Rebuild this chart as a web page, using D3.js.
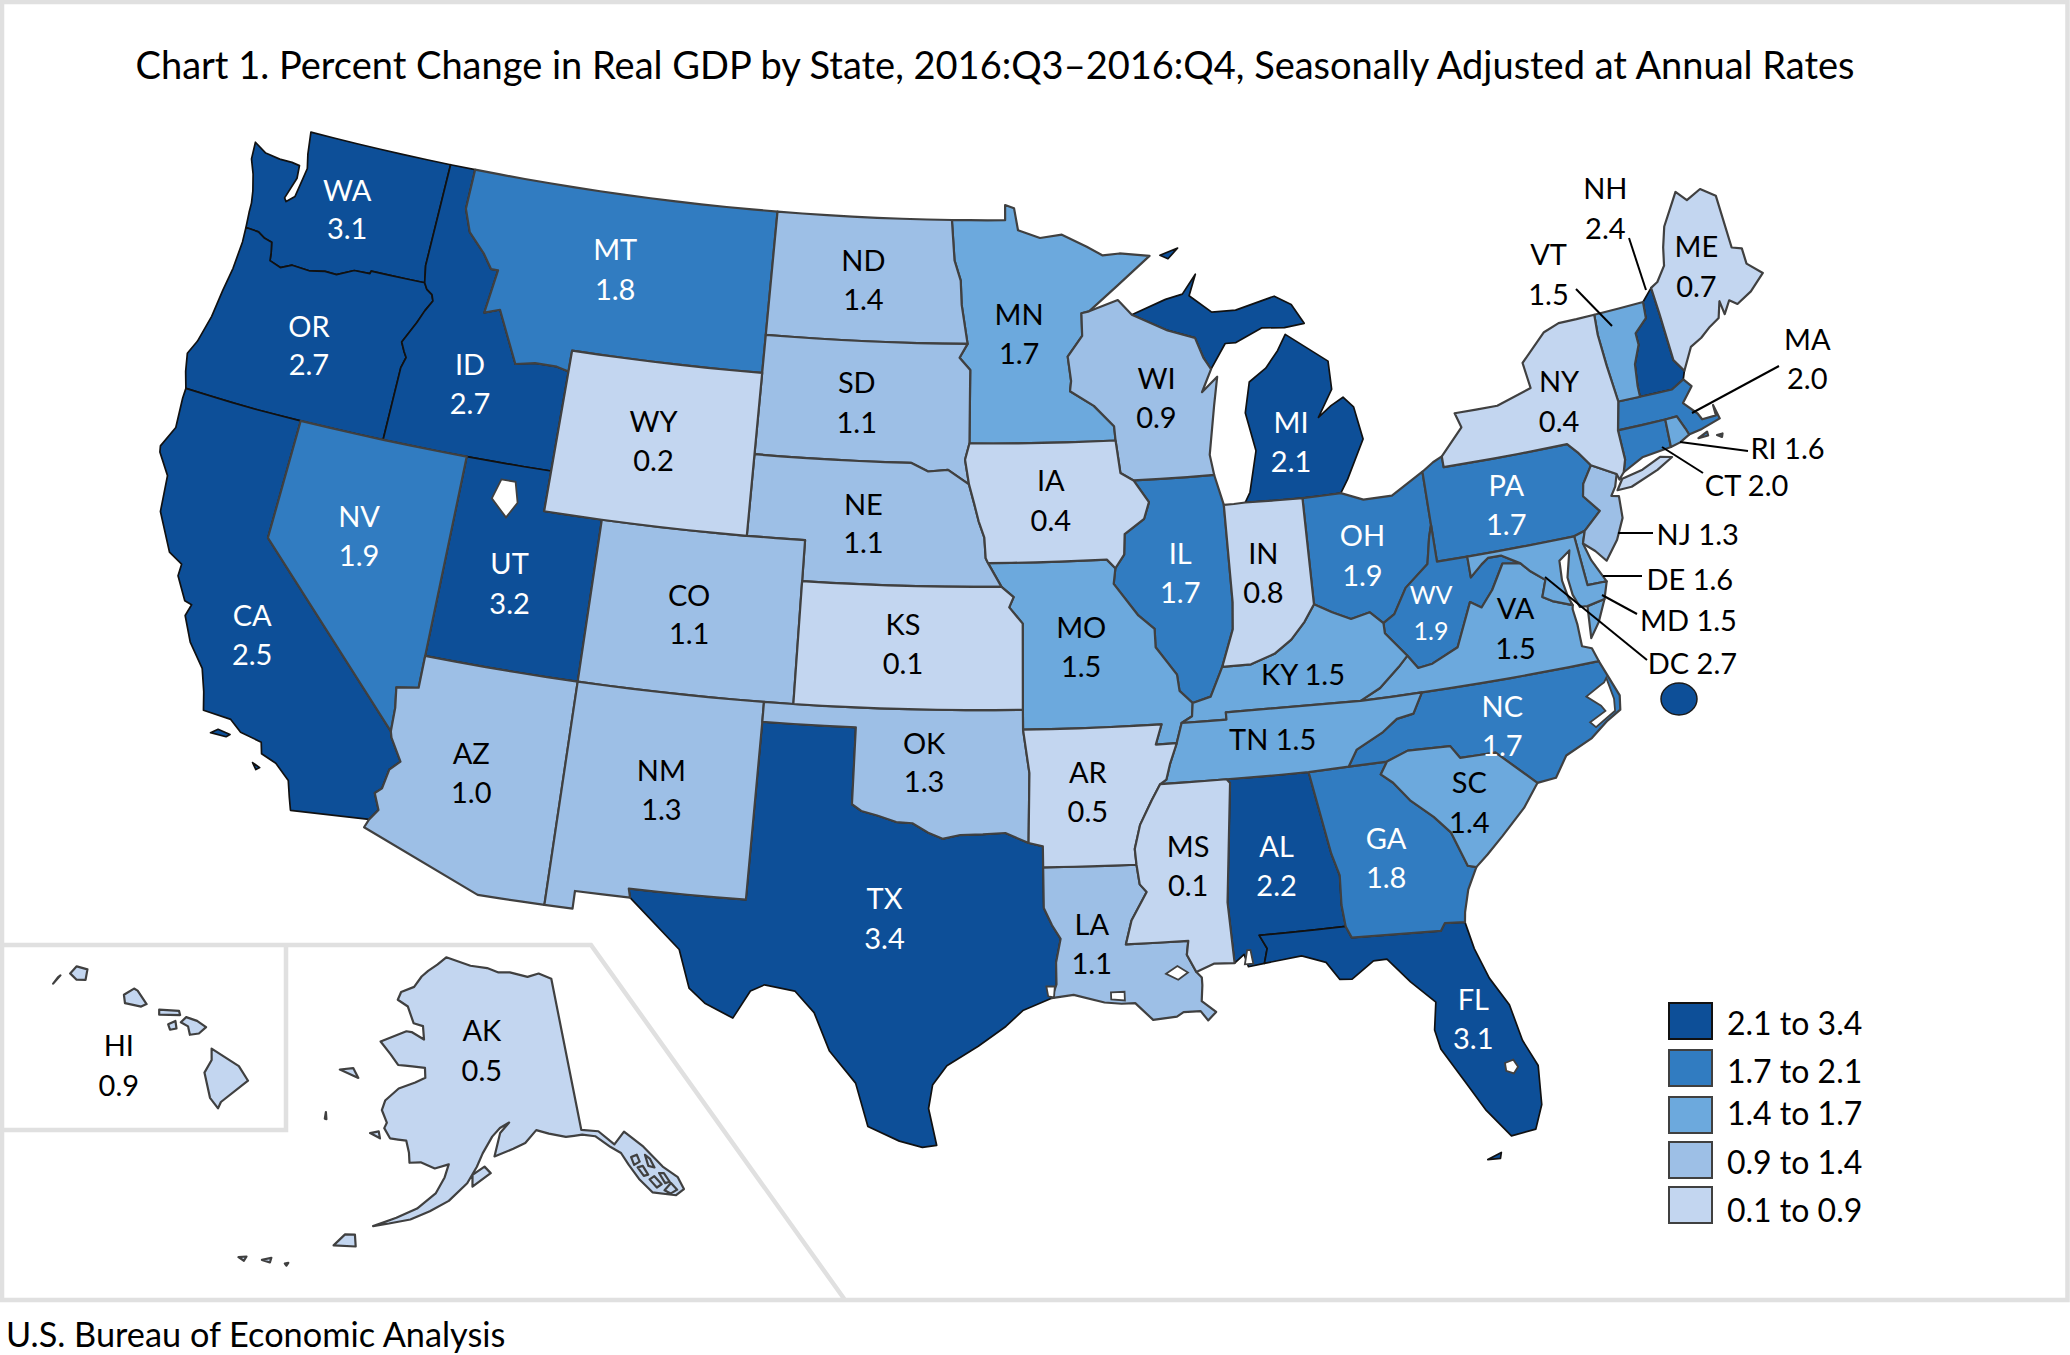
<!DOCTYPE html>
<html>
<head>
<title>Percent Change in Real GDP by State</title>
<script src="https://d3js.org/d3.v7.min.js"></script>
<style>
  body { margin: 0; background: #fff; }
  text { font-family: Lato, "Noto Sans", sans-serif; }
</style>
</head>
<body>
<svg id="chart" width="2070" height="1355"></svg>
<script>
// values
const stateCodes  = ["WA","OR","ID","MT","ND","SD","MN","WY","WI","NE","IA","CA","NV","UT","CO","KS","MO","IL","IN","OH","MI","PA","NY","ME","NH","VT","MA","AZ","NM","OK","AR","TX","LA","MS","AL","GA","FL","SC","NC","VA","WV","KY","TN","RI","CT","NJ","DE","MD","HI","AK"];
const stateValues = ["3.1","2.7","2.7","1.8","1.4","1.1","1.7","0.2","0.9","1.1","0.4","2.5","1.9","3.2","1.1","0.1","1.5","1.7","0.8","1.9","2.1","1.7","0.4","0.7","2.4","1.5","2.0","1.0","1.3","1.3","0.5","3.4","1.1","0.1","2.2","1.8","3.1","1.4","1.7","1.5","1.9","1.5","1.5","1.6","2.0","1.3","1.6","1.5","0.9","0.5"];
const stateBins   = [0,0,0,1,3,3,2,4,3,3,4,0,1,0,3,4,2,1,4,1,0,1,4,4,0,2,1,3,3,3,4,0,3,4,0,1,0,2,1,2,1,2,2,2,1,3,2,2,4,4];
const legendLabels = ["2.1 to 3.4","1.7 to 2.1","1.4 to 1.7","0.9 to 1.4","0.1 to 0.9"];
const binColors    = ["#0d4f98","#317cc1","#6ca9dd","#9dbfe6","#c3d6f0"];
const whiteLabels  = ["WA","OR","ID","MT","CA","NV","UT","IL","OH","MI","PA","TX","AL","GA","FL","NC","WV"];

// state outlines, lon/lat
const outlines = {
  WA: [[[-124,46.27],[-124.07,46.65],[-124.1,46.9],[-124.2,47.2],[-124.4,47.6],[-124.65,47.95],[-124.72,48.38],[-124.2,48.2],[-123.6,48.15],[-123.1,48.15],[-122.78,48.12],[-122.72,47.8],[-122.95,47.25],[-122.85,47.17],[-122.58,47.35],[-122.5,47.8],[-122.45,48.1],[-122.6,48.45],[-122.75,49],[-117.04,49],[-117.04,46.42],[-116.92,46],[-118.98,46],[-119,45.93],[-119.6,45.92],[-120.2,45.72],[-120.65,45.73],[-121.2,45.65],[-121.9,45.68],[-122.3,45.55],[-122.75,45.65],[-122.8,45.85],[-122.9,46.1],[-123.2,46.15],[-123.5,46.26]]],
  OR: [[[-124,46.27],[-123.5,46.26],[-123.2,46.15],[-122.9,46.1],[-122.8,45.85],[-122.75,45.65],[-122.3,45.55],[-121.9,45.68],[-121.2,45.65],[-120.65,45.73],[-120.2,45.72],[-119.6,45.92],[-119,45.93],[-118.98,46],[-116.92,46],[-116.78,45.85],[-116.55,45.75],[-116.46,45.6],[-116.67,45.32],[-116.85,45],[-117.22,44.45],[-117.05,44.23],[-116.93,44.1],[-117.03,43.83],[-117.03,42],[-124.2,42],[-124.4,42.4],[-124.55,42.84],[-124.35,43.2],[-124.15,43.9],[-124.07,44.6],[-123.97,45.2],[-123.95,45.9]]],
  ID: [[[-117.04,49],[-116.05,49],[-116.05,48],[-115.7,47.45],[-115,47],[-114.6,46.65],[-114.33,46.65],[-114.5,45.56],[-113.95,45.7],[-113.45,45.05],[-113,44.45],[-112.3,44.55],[-111.5,44.55],[-111.05,44.48],[-111.05,42],[-117.03,42],[-117.03,43.83],[-116.93,44.1],[-117.05,44.23],[-117.22,44.45],[-116.85,45],[-116.67,45.32],[-116.46,45.6],[-116.55,45.75],[-116.78,45.85],[-116.92,46],[-117.04,46.42]]],
  MT: [[[-116.05,49],[-104.05,49],[-104.05,45],[-111.05,45],[-111.05,44.48],[-111.5,44.55],[-112.3,44.55],[-113,44.45],[-113.45,45.05],[-113.95,45.7],[-114.5,45.56],[-114.33,46.65],[-114.6,46.65],[-115,47],[-115.7,47.45],[-116.05,48]]],
  ND: [[[-104.05,49],[-97.23,49],[-97.1,48],[-96.85,47.5],[-96.8,46.9],[-96.56,45.94],[-104.05,45.94]]],
  SD: [[[-104.05,45.94],[-96.56,45.94],[-96.85,45.6],[-96.45,45.3],[-96.45,43.5],[-96.6,43.1],[-96.45,42.5],[-97.2,42.85],[-97.9,42.8],[-98.5,43],[-104.05,43]]],
  MN: [[[-97.23,49],[-95.15,49],[-95.15,49.38],[-94.8,49.3],[-94.65,48.75],[-93.8,48.55],[-92.95,48.62],[-92,48.3],[-91.4,48.07],[-90.75,48.1],[-89.6,48],[-90.9,47.3],[-92,46.7],[-92.29,46.66],[-92.29,46.1],[-92.85,45.6],[-92.75,45],[-92.8,44.75],[-91.95,44.37],[-91.25,43.85],[-91.22,43.5],[-96.45,43.5],[-96.45,45.3],[-96.85,45.6],[-96.56,45.94],[-96.8,46.9],[-96.85,47.5],[-97.1,48]]],
  WY: [[[-111.05,45],[-104.05,45],[-104.05,41],[-111.05,41]]],
  WI: [[[-92.29,46.66],[-92,46.7],[-90.9,46.95],[-90.4,46.57],[-89.1,46.13],[-88.1,45.9],[-87.85,45.4],[-87.6,45.1],[-88,44.55],[-87.4,44.9],[-87.6,44.2],[-87.9,43],[-87.8,42.5],[-90.65,42.5],[-91.1,42.7],[-91.22,43.5],[-91.25,43.85],[-91.95,44.37],[-92.8,44.75],[-92.75,45],[-92.85,45.6],[-92.29,46.1]]],
  NE: [[[-104.05,43],[-98.5,43],[-97.9,42.8],[-97.2,42.85],[-96.45,42.5],[-96.25,42],[-96.1,41.6],[-95.9,41.2],[-95.85,40.7],[-95.77,40.58],[-95.31,40],[-102.05,40],[-102.05,41],[-104.05,41]]],
  IA: [[[-96.45,43.5],[-91.22,43.5],[-91.1,42.7],[-90.65,42.5],[-90.15,41.95],[-90.35,41.55],[-91.05,41.2],[-91.1,40.7],[-91.42,40.38],[-91.7,40.6],[-95.77,40.58],[-95.85,40.7],[-95.9,41.2],[-96.1,41.6],[-96.25,42],[-96.45,42.5],[-96.6,43.1]]],
  CA: [[[-124.2,42],[-120,42],[-120,39],[-114.63,35],[-114.57,34.85],[-114.14,34.3],[-114.43,34.05],[-114.53,33.55],[-114.72,33.4],[-114.5,33],[-114.72,32.72],[-117.12,32.53],[-117.25,32.85],[-117.4,33.25],[-117.9,33.6],[-118.4,33.75],[-118.5,34.03],[-119.2,34.15],[-119.6,34.4],[-120.5,34.45],[-120.65,34.9],[-120.9,35.45],[-121.5,36],[-121.9,36.6],[-121.8,36.9],[-122.05,36.95],[-122.5,37.5],[-122.5,37.8],[-123,38],[-123.7,38.9],[-123.85,39.8],[-124.35,40.3],[-124.4,40.45],[-124.1,41],[-124.2,41.75]],
       [[-119.9,34.08],[-119.5,34.03],[-119.6,33.95],[-120.1,33.95]],[[-118.6,33.48],[-118.35,33.4],[-118.45,33.33]]],
  NV: [[[-120,42],[-114.04,42],[-114.05,37],[-114.05,36.2],[-114.75,36.1],[-114.65,35.6],[-114.63,35],[-120,39]]],
  UT: [[[-114.04,42],[-111.05,42],[-111.05,41],[-109.05,41],[-109.05,37],[-114.05,37]]],
  CO: [[[-109.05,41],[-102.05,41],[-102.05,37],[-109.05,37]]],
  KS: [[[-102.05,40],[-95.31,40],[-94.9,39.75],[-95.05,39.5],[-94.6,39.1],[-94.62,37],[-102.05,37]]],
  MO: [[[-95.77,40.58],[-91.7,40.6],[-91.42,40.38],[-91.5,40],[-90.72,39.2],[-90.2,38.85],[-90.2,38.4],[-89.55,37.7],[-89.5,37.3],[-89.1,36.98],[-89.15,36.65],[-89.5,36.5],[-89.7,36],[-90.37,36],[-90.15,36.5],[-94.62,36.5],[-94.62,37],[-94.6,39.1],[-95.05,39.5],[-94.9,39.75],[-95.31,40]]],
  IL: [[[-90.65,42.5],[-87.8,42.5],[-87.55,41.75],[-87.53,39.35],[-87.6,38.7],[-88.05,37.8],[-88.5,37.1],[-89.1,36.98],[-89.5,37.3],[-89.55,37.7],[-90.2,38.4],[-90.2,38.85],[-90.72,39.2],[-91.5,40],[-91.42,40.38],[-91.1,40.7],[-91.05,41.2],[-90.35,41.55],[-90.15,41.95]]],
  IN: [[[-87.55,41.75],[-87.2,41.75],[-86.8,41.76],[-84.8,41.72],[-84.82,39.1],[-85.2,38.7],[-85.7,38.3],[-86.3,38],[-87.1,37.8],[-88.05,37.8],[-87.6,38.7],[-87.53,39.35]]],
  OH: [[[-84.8,41.72],[-83.45,41.73],[-82.7,41.5],[-81.7,41.5],[-80.52,41.97],[-80.52,40.64],[-80.65,40.35],[-80.85,39.7],[-81.7,39.2],[-82.2,38.6],[-82.6,38.42],[-83,38.73],[-83.65,38.63],[-84.25,38.85],[-84.82,39.1]]],
  MI: [[[-86.8,41.76],[-84.8,41.72],[-83.45,41.73],[-83.15,42.05],[-82.42,42.98],[-82.6,43.8],[-82.93,44.07],[-83.4,43.9],[-83.9,43.65],[-83.3,44.3],[-83.3,45],[-84.75,45.78],[-85.1,45.4],[-85.6,45],[-86.25,44.7],[-86.5,43.95],[-86.25,43],[-86.6,42]],
       [[-90.4,46.57],[-89.1,46.9],[-88.45,47],[-87.9,47.47],[-88.2,46.95],[-87.4,46.5],[-86.5,46.5],[-85,46.75],[-84.4,46.5],[-84,46],[-84.75,45.95],[-85.6,46],[-86.6,45.7],[-87,45.7],[-87.6,45.1],[-87.85,45.4],[-88.1,45.9],[-89.1,46.13]],
       [[-89.2,48],[-88.5,48.15],[-88.9,47.9]]],
  PA: [[[-80.52,41.97],[-80.1,42.16],[-79.76,42.27],[-79.76,42],[-75.35,42],[-75.05,41.75],[-74.7,41.36],[-75.1,40.95],[-75.2,40.65],[-74.75,40.2],[-75.4,39.8],[-75.79,39.72],[-80.52,39.72],[-80.52,40.64]]],
  NY: [[[-79.76,42],[-79.76,42.27],[-78.9,42.9],[-79.05,43.27],[-77.5,43.27],[-76.2,43.55],[-76.3,44.2],[-75.3,44.85],[-74.7,45],[-73.35,45.01],[-73.4,44.5],[-73.35,43.7],[-73.25,42.75],[-73.5,42.05],[-73.5,41.3],[-73.65,41],[-73.85,40.85],[-73.9,41],[-74.7,41.36],[-75.05,41.75],[-75.35,42]],
       [[-74,40.6],[-73.75,40.85],[-73,40.95],[-72.3,41.15],[-71.9,41.07],[-72.5,40.85],[-73.5,40.6]]],
  ME: [[[-71.08,45.3],[-70.8,45.4],[-70.4,45.75],[-70.25,46.2],[-70,46.7],[-69.23,47.46],[-68.9,47.18],[-68.3,47.35],[-67.8,47.07],[-67.8,45.7],[-67.45,45.6],[-67.45,45.2],[-66.98,44.85],[-67.6,44.5],[-68.2,44.3],[-68.45,44.45],[-68.75,44.15],[-68.8,44.5],[-69,44.1],[-69.4,43.95],[-69.8,43.75],[-70.25,43.6],[-70.7,43.07],[-70.98,43.4],[-71.03,44.6]]],
  NH: [[[-71.5,45.01],[-71.08,45.3],[-71.03,44.6],[-70.98,43.4],[-70.7,43.07],[-70.82,42.87],[-71.3,42.7],[-72.46,42.73],[-72.45,43],[-72.35,43.55],[-72.05,44],[-72.05,44.3],[-71.55,44.6]]],
  VT: [[[-73.35,45.01],[-71.5,45.01],[-71.55,44.6],[-72.05,44.3],[-72.05,44],[-72.35,43.55],[-72.45,43],[-72.46,42.73],[-73.25,42.75],[-73.35,43.7],[-73.4,44.5]]],
  MA: [[[-73.5,42.05],[-73.25,42.75],[-72.46,42.73],[-71.3,42.7],[-70.82,42.87],[-70.6,42.65],[-71.05,42.3],[-70.65,41.95],[-70.55,41.78],[-70.05,41.78],[-70.05,42.05],[-69.95,41.68],[-70.65,41.55],[-71.13,41.5],[-71.2,41.67],[-71.38,42.02],[-71.8,42.02]],
       [[-70.85,41.35],[-70.5,41.45],[-70.5,41.35]],[[-70.2,41.3],[-70,41.3],[-70.05,41.22]]],
  RI: [[[-71.8,42.02],[-71.38,42.02],[-71.2,41.67],[-71.13,41.5],[-71.5,41.37],[-71.85,41.32]]],
  CT: [[[-73.5,42.05],[-71.8,42.02],[-71.85,41.32],[-72.9,41.25],[-73.65,41],[-73.5,41.3]]],
  NJ: [[[-73.9,41],[-74.7,41.36],[-75.1,40.95],[-75.2,40.65],[-74.75,40.2],[-75.4,39.8],[-75.55,39.5],[-75.2,39.25],[-74.9,38.95],[-74.4,39.4],[-74.05,39.9],[-74,40.45],[-74.25,40.5],[-74.05,40.7]]],
  DE: [[[-75.79,39.72],[-75.4,39.8],[-75.55,39.5],[-75.4,39.05],[-75.05,38.45],[-75.7,38.46]]],
  MD: [[[-79.48,39.72],[-75.79,39.72],[-75.7,38.46],[-75.05,38.45],[-75.25,38.03],[-75.85,37.95],[-76.1,37.97],[-76.25,38.3],[-76.3,38.75],[-76.05,39.4],[-76.45,39.2],[-76.5,38.7],[-76.42,38.3],[-76.32,38.05],[-76.95,38.25],[-77.25,38.4],[-77.04,38.8],[-77.5,39.1],[-77.75,39.32],[-78.35,39.6],[-78.8,39.6],[-79.05,39.47],[-79.48,39.2]]],
  VA: [[[-83.68,36.6],[-81.68,36.59],[-75.87,36.55],[-76,36.9],[-76.3,37],[-76.3,37.55],[-76.35,37.95],[-76.32,38.05],[-76.95,38.25],[-77.25,38.4],[-77.04,38.8],[-77.5,39.1],[-77.75,39.32],[-78.35,39.4],[-78.85,38.8],[-79.3,38.42],[-79.65,38.6],[-80.3,37.55],[-81.2,37.25],[-81.68,37.2],[-81.97,37.54],[-82.3,37.3],[-83,36.85]],
       [[-75.25,38.03],[-75.85,37.95],[-75.95,37.15],[-75.6,37.5]]],
  WV: [[[-82.6,38.42],[-82.2,38.6],[-81.7,39.2],[-80.85,39.7],[-80.65,40.35],[-80.52,40.64],[-80.52,39.72],[-79.48,39.72],[-79.48,39.2],[-79.05,39.47],[-78.8,39.6],[-78.35,39.6],[-77.75,39.32],[-78.35,39.4],[-78.85,38.8],[-79.3,38.42],[-79.65,38.6],[-80.3,37.55],[-81.2,37.25],[-81.68,37.2],[-81.97,37.54],[-82.6,38.17]]],
  KY: [[[-89.5,36.5],[-88.05,36.5],[-88.05,36.68],[-83.68,36.6],[-83,36.85],[-82.3,37.3],[-81.97,37.54],[-82.6,38.17],[-82.6,38.42],[-83,38.73],[-83.65,38.63],[-84.25,38.85],[-84.82,39.1],[-85.2,38.7],[-85.7,38.3],[-86.3,38],[-87.1,37.8],[-88.05,37.8],[-88.5,37.1],[-89.1,36.98],[-89.15,36.65]]],
  TN: [[[-89.5,36.5],[-88.05,36.5],[-88.05,36.68],[-83.68,36.6],[-81.68,36.59],[-82.05,36.1],[-82.6,36.03],[-83.1,35.75],[-84,35.4],[-84.32,35],[-85.6,34.98],[-88.2,35],[-90.3,35],[-90.1,35.1],[-89.95,35.5],[-89.7,36]]],
  NC: [[[-84.32,35],[-83.1,35],[-82.4,35.2],[-81.05,35.15],[-80.8,34.82],[-79.67,34.8],[-78.55,33.86],[-77.95,33.9],[-77.5,34.4],[-76.6,34.7],[-76,35.05],[-75.53,35.25],[-75.45,35.6],[-75.87,36.55],[-81.68,36.59],[-82.05,36.1],[-82.6,36.03],[-83.1,35.75],[-84,35.4]]],
  SC: [[[-83.35,34.7],[-83.1,35],[-82.4,35.2],[-81.05,35.15],[-80.8,34.82],[-79.67,34.8],[-78.55,33.86],[-79.1,33.3],[-79.9,32.7],[-80.45,32.3],[-80.85,32.03],[-81.1,32.1],[-81.45,33],[-81.9,33.45],[-82.55,33.95],[-83,34.45]]],
  GA: [[[-85.6,34.98],[-84.32,35],[-83.1,35],[-83.35,34.7],[-83,34.45],[-82.55,33.95],[-81.9,33.45],[-81.45,33],[-81.1,32.1],[-80.85,32.03],[-81.2,31.5],[-81.4,30.95],[-81.45,30.7],[-82.05,30.75],[-82.2,30.57],[-84.86,30.7],[-85,31],[-85.05,31.55],[-85,32.3],[-85.18,32.87]]],
  FL: [[[-87.6,31],[-85,31],[-84.86,30.7],[-82.2,30.57],[-82.05,30.75],[-81.45,30.7],[-81.3,30],[-81,29.2],[-80.55,28.45],[-80.35,27.5],[-80.03,26.8],[-80.12,25.8],[-80.4,25.2],[-81.1,25.13],[-81.7,25.9],[-82.1,26.6],[-82.7,27.6],[-82.8,28.1],[-82.65,28.8],[-83.3,29.4],[-83.9,30.05],[-84.3,30.05],[-85,29.65],[-85.35,29.68],[-85.7,30.15],[-86.4,30.38],[-87.52,30.28],[-87.4,30.65]],
       [[-81.85,24.62],[-81.45,24.75],[-81.5,24.6]]],
  AL: [[[-88.2,35],[-85.6,34.98],[-85.18,32.87],[-85,32.3],[-85.05,31.55],[-85,31],[-87.6,31],[-87.4,30.65],[-87.52,30.28],[-88,30.23],[-88.1,30.55],[-88.4,30.35],[-88.47,31.9],[-88.1,34.9]]],
  MS: [[[-90.3,35],[-88.2,35],[-88.1,34.9],[-88.47,31.9],[-88.4,30.35],[-89,30.38],[-89.55,30.2],[-89.8,30.65],[-89.73,31],[-91.6,31],[-91.4,31.6],[-90.9,32.3],[-91.1,32.5],[-91.17,33],[-91.2,33.4],[-91,34],[-90.6,34.6]]],
  LA: [[[-94.04,33.02],[-91.17,33],[-91.1,32.5],[-90.9,32.3],[-91.4,31.6],[-91.6,31],[-89.73,31],[-89.8,30.65],[-89.55,30.2],[-89.4,30.05],[-89.4,29.85],[-89.45,29.45],[-89.05,29.15],[-89.3,28.95],[-89.5,29.2],[-90,29.2],[-90.2,29.1],[-90.9,29.05],[-91.4,29.5],[-91.8,29.5],[-92.3,29.55],[-93.2,29.77],[-93.85,29.7],[-93.7,30.05],[-93.7,30.6],[-93.55,31.2],[-93.8,31.55],[-94.04,31.99]]],
  AR: [[[-94.62,36.5],[-90.15,36.5],[-90.37,36],[-89.7,36],[-89.95,35.5],[-90.1,35.1],[-90.3,35],[-90.6,34.6],[-91,34],[-91.2,33.4],[-91.17,33],[-94.04,33.02],[-94.04,33.55],[-94.48,33.64],[-94.43,35.4]]],
  OK: [[[-103,37],[-94.62,37],[-94.62,36.5],[-94.43,35.4],[-94.48,33.64],[-95.2,33.9],[-95.9,33.87],[-96.6,33.85],[-97.15,33.75],[-97.6,33.9],[-98.1,34.13],[-98.6,34.15],[-99.2,34.3],[-99.7,34.4],[-100,34.56],[-100,36.5],[-103,36.5]]],
  TX: [[[-103,36.5],[-100,36.5],[-100,34.56],[-99.7,34.4],[-99.2,34.3],[-98.6,34.15],[-98.1,34.13],[-97.6,33.9],[-97.15,33.75],[-96.6,33.85],[-95.9,33.87],[-95.2,33.9],[-94.48,33.64],[-94.04,33.55],[-94.04,33.02],[-94.04,31.99],[-93.8,31.55],[-93.55,31.2],[-93.7,30.6],[-93.7,30.05],[-93.85,29.7],[-94.7,29.4],[-95.2,29],[-96,28.5],[-96.9,28],[-97.3,27.5],[-97.4,26.9],[-97.15,25.96],[-97.55,25.9],[-98.2,26.05],[-99.1,26.4],[-99.5,27.5],[-100.3,28.3],[-100.8,29.25],[-101.4,29.77],[-102.3,29.88],[-102.7,29.7],[-103.15,28.98],[-104,29.3],[-104.5,29.65],[-104.9,30.6],[-106.53,31.78],[-106.6,32],[-103.05,32]]],
  NM: [[[-109.05,37],[-103,37],[-103,36.5],[-103.05,32],[-106.6,32],[-106.53,31.78],[-108.2,31.78],[-108.2,31.33],[-109.05,31.33]]],
  AZ: [[[-114.05,37],[-109.05,37],[-109.05,31.33],[-111.07,31.33],[-114.82,32.5],[-114.72,32.72],[-114.5,33],[-114.72,33.4],[-114.53,33.55],[-114.43,34.05],[-114.14,34.3],[-114.57,34.85],[-114.63,35],[-114.65,35.6],[-114.75,36.1],[-114.05,36.2]]],
  AK: [[[-141,69.65],[-143,70.1],[-145,70],[-148,70.4],[-150,70.45],[-152,70.75],[-155,70.9],[-159.5,71.35],[-161,70.85],[-162.5,70.4],[-163.5,70],[-164.5,69.3],[-166.5,68.85],[-166.8,68.35],[-165,68.05],[-163.7,67.1],[-162.2,67],[-161.8,66.2],[-163.8,66.55],[-164.6,66.55],[-168.1,65.65],[-166.3,65],[-165,64.45],[-163,64.5],[-161.2,64.5],[-161,63.9],[-162.3,63.55],[-164.4,63.05],[-165.9,62.2],[-166.1,61.6],[-165.2,60.9],[-165.4,60.55],[-164.5,60],[-162.5,60],[-162,59.3],[-161.8,58.7],[-160.5,58.8],[-158.8,58.5],[-157.2,58.8],[-157.6,58],[-158.5,57],[-160.4,56],[-162.5,55.3],[-164.8,54.6],[-163.2,54.9],[-161,55.3],[-159,55.9],[-157,56.6],[-155,57.7],[-153.9,58.7],[-153.2,59.5],[-152,60.5],[-151,61],[-149.8,61.3],[-151,60.7],[-151.8,59.3],[-149.5,59.7],[-148,60],[-146.5,60.7],[-145,60.4],[-143,60.05],[-141,60],[-139.5,59.75],[-138,58.9],[-137,58.4],[-136.5,57.6],[-135.8,56.6],[-134.8,55.6],[-132.5,55],[-131.5,55.2],[-131.7,56],[-132.9,56.9],[-134.3,58.4],[-136,59.6],[-137.5,59],[-139,60],[-141,60.3]],
       [[-154.4,57.5],[-152.3,58.3],[-153,58.7],[-154.4,58.2]],[[-167,60.1],[-165.7,59.9],[-166,60.3]],[[-172.7,63.4],[-170,63.2],[-171,63.7]],[[-172.9,60.7],[-172.6,60.3],[-172.8,60.3]],
       [[-168.4,53],[-166.2,53.2],[-166.5,53.9],[-167.5,53.8]],[[-172.6,51.2],[-172.3,51.3],[-172.4,51.1]],[[-174.8,51],[-174,51.3],[-174,51]],[[-177,50.7],[-176.3,50.9],[-176.4,50.6]],
       [[-136,58],[-135.3,58.05],[-135.2,57.6],[-135.9,57.5]],[[-135.6,57.3],[-135,57.3],[-134.7,56.7],[-135.2,56.7]],[[-134.4,57.9],[-134,57.6],[-133.8,57],[-134.4,57.2]],[[-134.7,56.4],[-134.1,56.5],[-133.6,55.9],[-134.2,55.8]],[[-133.5,56.6],[-133,56.5],[-132.7,55.9],[-133.2,55.9]],[[-133.5,55.5],[-132.6,55.8],[-132.2,55.3],[-133,55.2]]],
  HI: [[[-159.78,22.05],[-159.6,22.22],[-159.3,22.15],[-159.35,21.9],[-159.6,21.9]],
       [[-160.25,21.8],[-160.05,22],[-160.12,21.95]],
       [[-158.28,21.55],[-158.25,21.35],[-157.8,21.27],[-157.65,21.33],[-157.9,21.65],[-158,21.7]],
       [[-157.3,21.2],[-156.75,21.17],[-156.72,21.07],[-157.3,21.08]],
       [[-157.05,20.85],[-156.85,20.93],[-156.82,20.75],[-157,20.72]],
       [[-156.7,20.9],[-156.55,21.02],[-156.25,20.93],[-156,20.78],[-156.2,20.63],[-156.45,20.6],[-156.5,20.8]],
       [[-155.85,20.27],[-155.55,20.1],[-155.1,19.85],[-154.85,19.5],[-155.6,19],[-155.68,18.85],[-155.9,19.1],[-156.05,19.7],[-155.85,20]]]
};
const lakes = [
  [[-112.7,41.6],[-112.2,41.6],[-112,41.1],[-112.3,40.7],[-112.9,41.1]],
  [[-75.75,36.1],[-75.65,35.55],[-75.7,35.25],[-76.4,34.95],[-76.55,35.1],[-76,35.3],[-76.1,35.45],[-76.5,35.75],[-76,35.95],[-75.85,36]],
  [[-90.45,30.2],[-90.1,30.38],[-89.8,30.2],[-90.1,30.03]],
  [[-80.95,27],[-80.7,27.05],[-80.6,26.85],[-80.75,26.7],[-80.95,26.8]],
  [[-88,30.65],[-87.9,30.65],[-87.85,30.3],[-88.1,30.3]],
  [[-92.1,29.8],[-91.7,29.8],[-91.7,29.58],[-92.1,29.62]],
  [[-94,30],[-93.75,30],[-93.78,29.72],[-93.95,29.75]]
];

// label anchors in 1568-wide picture units: [x, first line y, second line y]
const twoLine = {WA:[263,144,173],OR:[234,247,276],ID:[356,276,306],MT:[466,189,219],ND:[654,197,227],SD:[649,290,320],MN:[772,238,268],WY:[495,319,349],WI:[876,287,316],NE:[654,382,411],IA:[796,364,394],CA:[191,466,496],NV:[272,391,421],UT:[386,427,457],CO:[522,451,480],KS:[684,473,503],MO:[819,475,505],IL:[894,419,449],IN:[957,419,449],OH:[1032,406,436],MI:[978,320,350],PA:[1141,368,397],NY:[1181,289,319],ME:[1285,187,217],NH:[1216,143,173],VT:[1173,193,223],MA:[1369,257,287],AZ:[357,571,600],NM:[501,584,613],OK:[700,563,592],AR:[824,585,615],TX:[670,681,711],LA:[827,700,730],MS:[900,641,671],AL:[967,641,671],GA:[1050,635,665],FL:[1116,757,787],SC:[1113,593,623],NC:[1138,535,565],VA:[1148,461,491],WV:[1084,451,478],HI:[90,792,822],AK:[365,781,811]};
const oneLine = {KY:[987,511],TN:[964,560],RI:[1354,340],CT:[1323,368],NJ:[1286,405],DE:[1280,439],MD:[1279,470]};
const leaders = [[1629,238,1646,290],[1576,289,1612,326],[1779,366,1692,413],[1748,451,1680,442],[1703,473,1662,447],[1653,533,1618,533],[1642,576,1603,576],[1637,614,1602,595],[1647,660,1545,577]];

const svg = d3.select("#chart");
const k = 2070 / 1568;

const main = d3.geoAlbers().rotate([96,0]).center([0,38]).parallels([29.5,45.5]).scale(2214).translate([983,671]);
const akProj = d3.geoConicEqualArea().rotate([154,0]).center([0,62]).parallels([55,65]).scale(946).translate([476,1112]);
const hiProj = d3.geoConicEqualArea().rotate([157,0]).center([0,20.5]).parallels([8,18]).scale(2200).translate([170,1039]);

// the reference map is not a plain Albers; small warp of the projected plane to line it up
const warp = d3.geoTransform({
  point(x, y) {
    const xd = x/k, yd = y/k, u = (xd-700)/500, v = (yd-500)/350;
    const dx = -2 + 3*u - 2.7*v + 5*u*v - 4*(1-v*v)*Math.max(0,-u);
    const dy = yd < 535 ? -20*(535-yd)/375*(1-0.5*Math.min(u*u,1)) : 6*(yd-535)/333;
    this.stream.point(x+dx*k, y+dy*k);
  }
});
const mainPath = d3.geoPath({stream: s => main.stream(warp.stream(s))});
const hiStretch = d3.geoTransform({ point(x, y) { this.stream.point(x, 1039+(y-1039)*1.1); } });
const hiPath = d3.geoPath({stream: s => hiProj.stream(hiStretch.stream(s))});
const akPath = d3.geoPath(akProj);

// long east-west edges follow the parallel, not a great arc
function densify(ring) {
  const out = [];
  ring.concat([ring[0]]).forEach((p, i, a) => {
    if (i === 0) return;
    const q = a[i-1], n = Math.ceil(Math.abs(p[0]-q[0]));
    out.push(q);
    if (Math.abs(p[1]-q[1]) < 0.05 && n > 1)
      for (let j = 1; j < n; j++) out.push([q[0]+(p[0]-q[0])*j/n, q[1]+(p[1]-q[1])*j/n]);
  });
  out.push(out[0]);
  return out;
}
function polygon(ring) {
  let r = densify(ring);
  if (d3.geoArea({type:"Polygon",coordinates:[r]}) > 2*Math.PI) r = r.slice().reverse();
  return [r];
}
function feature(rings) { return {type:"MultiPolygon",coordinates:rings.map(polygon)}; }

// frame and inset lines
const frameColor = "#e0e0e0";
svg.append("path").attr("fill","none").attr("stroke",frameColor).attr("stroke-width",4.5)
  .attr("d","M2,2H2067.5V1300H2Z M2,945H591L845,1300 M286,945V1130H2");

const strokeColor = "#404040";
const mapG = svg.append("g");
// darkest bin first: its thin black edges go under the grey edges of lighter neighbours
d3.range(stateCodes.length).sort((a,b) => stateBins[a]-stateBins[b]).forEach(i => {
  const code = stateCodes[i];
  const path = code === "AK" ? akPath : code === "HI" ? hiPath : mainPath;
  mapG.append("path").datum(feature(outlines[code]))
    .attr("d", path)
    .attr("fill", binColors[stateBins[i]])
    .attr("stroke", stateBins[i] === 0 ? "#111" : strokeColor)
    .attr("stroke-width", stateBins[i] === 0 ? 1.7 : 2.2)
    .attr("stroke-linejoin","round");
});
lakes.forEach(r => {
  mapG.append("path").datum(feature([r])).attr("d", mainPath)
    .attr("fill","#fff").attr("stroke",strokeColor).attr("stroke-width",1.8);
});

// DC marker
svg.append("ellipse").attr("cx",1679).attr("cy",699).attr("rx",18).attr("ry",16)
  .attr("fill",binColors[0]).attr("stroke","#1a1a1a").attr("stroke-width",1.5);

svg.selectAll("line.leader").data(leaders).join("line").attr("class","leader")
  .attr("x1",d=>d[0]).attr("y1",d=>d[1]).attr("x2",d=>d[2]).attr("y2",d=>d[3])
  .attr("stroke","#000").attr("stroke-width",2);

function label(x,y,s,color,size) {
  svg.append("text").attr("x",x).attr("y",y).attr("dy","0.36em").attr("text-anchor","middle")
    .attr("font-size",size||29).attr("fill",color).text(s);
}
stateCodes.forEach((code,i) => {
  const color = whiteLabels.includes(code) ? "#fff" : "#000";
  const size = code === "WV" ? 25 : 29;
  if (twoLine[code]) {
    const p = twoLine[code];
    label(p[0]*k,p[1]*k,code,color,size);
    label(p[0]*k,p[2]*k,stateValues[i],color,size);
  } else {
    const p = oneLine[code];
    label(p[0]*k,p[1]*k,code+" "+stateValues[i],color,size);
  }
});
label(1282*k,503*k,"DC 2.7","#000");

// title, footer
svg.append("text").attr("x",995).attr("y",65).attr("dy","0.36em").attr("text-anchor","middle")
  .attr("font-size",38).attr("fill","#000")
  .text("Chart 1. Percent Change in Real GDP by State, 2016:Q3\u20132016:Q4, Seasonally Adjusted at Annual Rates");
svg.append("text").attr("x",6).attr("y",1335).attr("dy","0.36em").attr("font-size",34.3).attr("fill","#000")
  .text("U.S. Bureau of Economic Analysis");

// legend
const legendY = [1003,1050,1097,1142,1187];
const legendTextY = [1023,1071,1113,1162,1210];
legendLabels.forEach((s,i) => {
  svg.append("rect").attr("x",1669).attr("y",legendY[i]).attr("width",43).attr("height",36)
    .attr("fill",binColors[i]).attr("stroke",i === 0 ? "#111" : strokeColor).attr("stroke-width",2);
  svg.append("text").attr("x",1727).attr("y",legendTextY[i]).attr("dy","0.36em").attr("font-size",32).attr("fill","#000").text(s);
});
</script>
</body>
</html>
